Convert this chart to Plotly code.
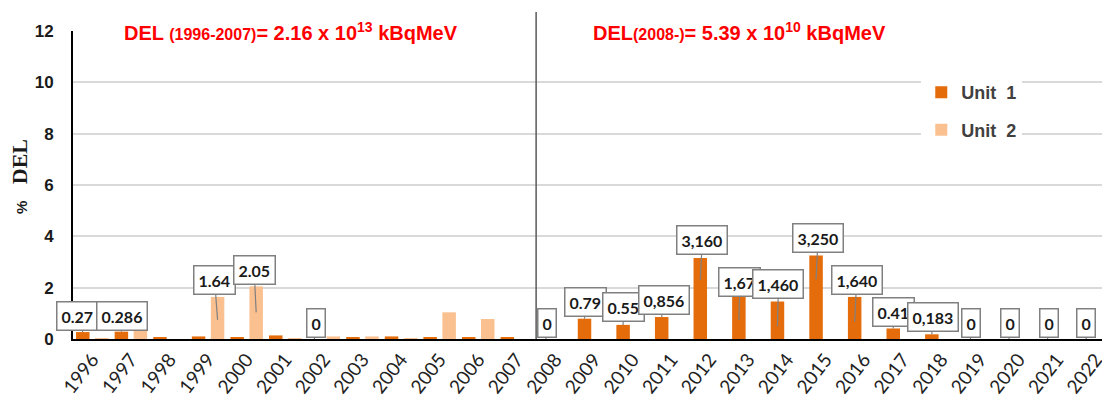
import plotly.graph_objects as go

years = [str(y) for y in range(1996, 2023)]
unit1 = [0.27, 0.286, 0.07, 0.10, 0.05, 0.14, 0.0, 0.04, 0.10, 0.04, 0.07, 0.05,
         0.0, 0.79, 0.55, 0.856, 3.16, 1.67, 1.46, 3.25, 1.64, 0.41, 0.183,
         0.0, 0.0, 0.0, 0.0]
unit2 = [0.03, 0.46, 0.0, 1.64, 2.05, 0.03, 0.10, 0.10, 0.03, 1.04, 0.78, 0.0,
         None, None, None, None, None, None, None, None, None, None, None,
         None, None, None, None]
y_ticks = [0, 2, 4, 6, 8, 10, 12]

# callout labels: (year, series, text)
label_year = ["1996", "1997", "1999", "2000", "2002", "2008", "2009", "2010", "2011",
              "2012", "2013", "2014", "2015", "2016", "2017", "2018",
              "2019", "2020", "2021", "2022"]
label_series = [1, 1, 2, 2, 1, 1, 1, 1, 1, 1, 1, 1, 1, 1, 1, 1, 1, 1, 1, 1]
label_text = ["0.27", "0.286", "1.64", "2.05", "0", "0", "0.79", "0.55", "0,856",
              "3,160", "1,67", "1,460", "3,250", "1,640", "0.41", "0,183",
              "0", "0", "0", "0"]
# style: pixel offsets of callout box relative to tip, tip drop into bar
label_ax = [-5, 1, -3, -2, 2, 1, 1, 0, 2, 2, 1, 1, 2, 2, 0, 1, 1, 1, 1, 0]
label_ay = [-16, -16, -40, -42, -16, -16, -17, -18, -17, -40, -38, -43, -42, -42,
            -16, -17, -16, -16, -16, -16]
label_drop = [0, 0, 23, 26, 0, 0, 0, 0, 0, 22, 24, 25, 24, 25, 0, 0, 0, 0, 0, 0]

C1 = "#E46C0A"
C2 = "#FAC090"
BARGAP = 0.015
GROUPGAP = 0.29

fig = go.Figure()
fig.add_trace(go.Bar(x=years, y=unit1, name="Unit  1", marker_color=C1,
                     marker_line_width=0, legendgroup="a"))
fig.add_trace(go.Bar(x=years, y=unit2, name="Unit  2", marker_color=C2,
                     marker_line_width=0, legendgroup="b"))

slot = (1 - BARGAP) / 2
annotations = []
for yr, s, t, ax, ay, drop in zip(label_year, label_series, label_text,
                                   label_ax, label_ay, label_drop):
    i = years.index(yr)
    val = (unit1 if s == 1 else unit2)[i] or 0
    xpos = i - slot / 2 if s == 1 else i + slot / 2
    annotations.append(dict(
        x=xpos, y=val, xref="x", yref="y", yshift=-drop,
        text=t, showarrow=True, arrowhead=0, arrowwidth=1.2,
        arrowcolor="#808080", ax=ax, ay=ay, standoff=0,
        bgcolor="white", bordercolor="#808080", borderwidth=1.5, borderpad=4,
        font=dict(family="Lato", size=16, color="#1a1a1a", weight="bold"),
    ))

title_font = dict(family="Liberation Sans", size=20, color="#FF0000", weight="bold")
annotations.append(dict(
    x=0.047, y=1.0, xref="paper", yref="paper", xanchor="left", yanchor="middle",
    showarrow=False, font=title_font,
    text="DEL <span style='font-size:16px'>(1996-2007)</span>= 2.16 x 10<sup>13</sup> kBqMeV"))
annotations.append(dict(
    x=0.4995, y=1.0, xref="paper", yref="paper", xanchor="left", yanchor="middle",
    showarrow=False, font=title_font,
    text="DEL<span style='font-size:16px'>(2008-)</span>= 5.39 x 10<sup>10</sup> kBqMeV"))
annotations.append(dict(
    x=-0.052, y=0.5, xref="paper", yref="paper", xanchor="center", yanchor="middle",
    yshift=8, textangle=-90, showarrow=False,
    font=dict(family="Liberation Serif", size=22, color="#1a1a1a", weight="bold"),
    text="<span style='font-family:Liberation Sans;font-size:15px'>%</span>   DEL"))

# page body has an 8px margin: shrink the figure so the plot sits where the reference does
fig.update_layout(
    width=1102, height=395,
    margin=dict(l=65, r=0, t=23, b=64),
    paper_bgcolor="white", plot_bgcolor="white",
    bargap=BARGAP, bargroupgap=GROUPGAP, barmode="group",
    annotations=annotations,
    legend=dict(x=0.818, y=0.86, xanchor="left", yanchor="top",
                bgcolor="white", tracegroupgap=11,
                font=dict(family="Liberation Sans", size=18, color="#404040",
                          weight="bold")),
    shapes=[dict(type="line", xref="x", yref="paper", x0=11.5, x1=11.5,
                 y0=0, y1=1.062, line=dict(color="#595959", width=1.5))],
)
fig.update_xaxes(
    type="category", range=[-0.5, 26.37], tickangle=-52,
    tickfont=dict(family="Lato", size=19, color="#1f1f1f"),
    showline=True, linecolor="black", linewidth=2, ticks="", showgrid=False,
    automargin=False,
)
fig.update_yaxes(
    range=[0, 12], tickvals=y_ticks, showline=True, linecolor="black",
    linewidth=2, showgrid=True, gridcolor="#D9D9D9", gridwidth=1.5,
    ticks="", ticklabelstandoff=14, zeroline=False, automargin=False,
    tickfont=dict(family="Liberation Sans", size=17, color="#1a1a1a", weight="bold"),
)

fig.write_html("out.html")
